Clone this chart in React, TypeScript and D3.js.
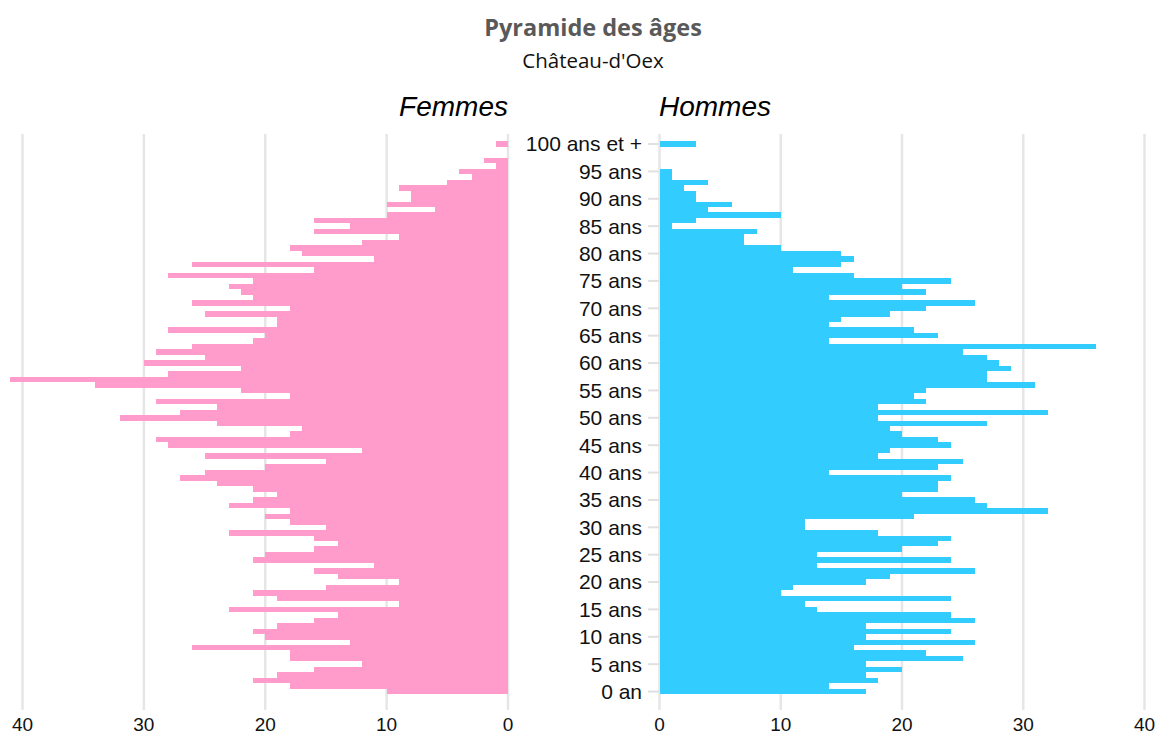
import React from "react";
import * as d3 from "d3";

const width = 1159;
const height = 734;

// ages 0..100 (100 = "100 ans et +")
const ages = d3.range(0, 101);

// population per age (index = age)
const femmes = [
  10, 18, 21, 19, 16, 12, 18, 18, 26, 13,
  20, 21, 19, 16, 14, 23, 9, 19, 21, 15,
  9, 14, 16, 11, 21, 20, 16, 14, 16, 23,
  15, 18, 20, 18, 23, 21, 19, 21, 24, 27,
  25, 20, 15, 25, 12, 28, 29, 18, 17, 24,
  32, 27, 24, 29, 18, 22, 34, 41, 28, 22,
  30, 25, 29, 26, 21, 20, 28, 19, 19, 25,
  18, 26, 21, 22, 23, 21, 28, 16, 26, 11,
  17, 18, 12, 9, 16, 13, 16, 10, 6, 10,
  8, 8, 9, 5, 3, 4, 1, 2, 0, 0,
  1,
];

const hommes = [
  17, 14, 18, 17, 20, 17, 25, 22, 16, 26,
  17, 24, 17, 26, 24, 13, 12, 24, 10, 11,
  17, 19, 26, 13, 24, 13, 20, 23, 24, 18,
  12, 12, 21, 32, 27, 26, 20, 23, 23, 24,
  14, 23, 25, 18, 19, 24, 23, 20, 19, 27,
  18, 32, 18, 22, 21, 22, 31, 27, 27, 29,
  28, 27, 25, 36, 14, 23, 21, 14, 15, 19,
  22, 26, 14, 22, 20, 24, 16, 11, 15, 16,
  15, 10, 7, 7, 8, 1, 3, 10, 4, 6,
  3, 3, 2, 4, 1, 1, 0, 0, 0, 0,
  3,
];

const labelAges = [100, 95, 90, 85, 80, 75, 70, 65, 60, 55, 50, 45, 40, 35, 30, 25, 20, 15, 10, 5, 0];
const xTicks = [0, 10, 20, 30, 40];

const ageLabel = (a: number) =>
  a === 100 ? "100 ans et +" : a === 0 ? "0 an" : `${a} ans`;

const PINK = "#ff9ccc";
const BLUE = "#33ccff";
const GRID = "#e6e6e6";
const LABEL_FONT = "'Liberation Sans', Arial, sans-serif";

export default function App() {
  const y = d3
    .scaleBand<number>()
    .domain([...ages].reverse())
    .range([141.3, 694.3])
    .padding(0);

  const xLeft = d3.scaleLinear().domain([0, 40]).range([508, 22.5]);
  const xRight = d3.scaleLinear().domain([0, 40]).range([659.5, 1144.5]);

  const bw = y.bandwidth();

  return (
    <svg
      width={width}
      height={height}
      style={{ position: "absolute", left: 0, top: 0, background: "#fff" }}
    >
      {/* titles */}
      <text
        x={593}
        y={36}
        textAnchor="middle"
        fontFamily="'Open Sans', sans-serif"
        fontWeight="bold"
        fontSize={23.5}
        fill="#595959"
      >
        Pyramide des âges
      </text>
      <text
        x={593}
        y={68}
        textAnchor="middle"
        fontFamily="'Open Sans', sans-serif"
        fontSize={20.5}
        fill="#111"
      >
        Château-d'Oex
      </text>
      <text
        x={508}
        y={116}
        textAnchor="end"
        fontFamily={LABEL_FONT}
        fontStyle="italic"
        fontSize={28}
        fill="#000"
      >
        Femmes
      </text>
      <text
        x={659}
        y={116}
        textAnchor="start"
        fontFamily={LABEL_FONT}
        fontStyle="italic"
        fontSize={28}
        fill="#000"
      >
        Hommes
      </text>

      {/* grid */}
      {xTicks.map((t) => (
        <g key={"g" + t}>
          <line x1={xLeft(t)} x2={xLeft(t)} y1={134} y2={710} stroke={GRID} strokeWidth={2.5} />
          <line x1={xRight(t)} x2={xRight(t)} y1={134} y2={710} stroke={GRID} strokeWidth={2.5} />
        </g>
      ))}

      {/* bars */}
      <g shapeRendering="crispEdges">
        {ages.map((a) => (
          <g key={"b" + a}>
            <rect
              x={xLeft(femmes[a])}
              y={y(a)}
              width={xLeft(0) - xLeft(femmes[a])}
              height={bw}
              fill={PINK}
            />
            <rect
              x={xRight(0)}
              y={y(a)}
              width={xRight(hommes[a]) - xRight(0)}
              height={bw}
              fill={BLUE}
            />
          </g>
        ))}
      </g>

      {/* age axis */}
      {labelAges.map((a) => {
        const cy = (y(a) as number) + bw / 2;
        return (
          <g key={"l" + a}>
            <line x1={648} x2={659} y1={cy} y2={cy} stroke="#e0e0e0" strokeWidth={2} />
            <text
              x={642}
              y={cy}
              dy="0.35em"
              textAnchor="end"
              fontFamily={LABEL_FONT}
              fontSize={21}
              fill="#111"
            >
              {ageLabel(a)}
            </text>
          </g>
        );
      })}

      {/* value axes */}
      {xTicks.map((t) => (
        <g key={"t" + t} fontFamily={LABEL_FONT} fontSize={19} fill="#111" textAnchor="middle">
          <text x={xLeft(t)} y={731}>{t}</text>
          <text x={xRight(t)} y={731}>{t}</text>
        </g>
      ))}
    </svg>
  );
}
